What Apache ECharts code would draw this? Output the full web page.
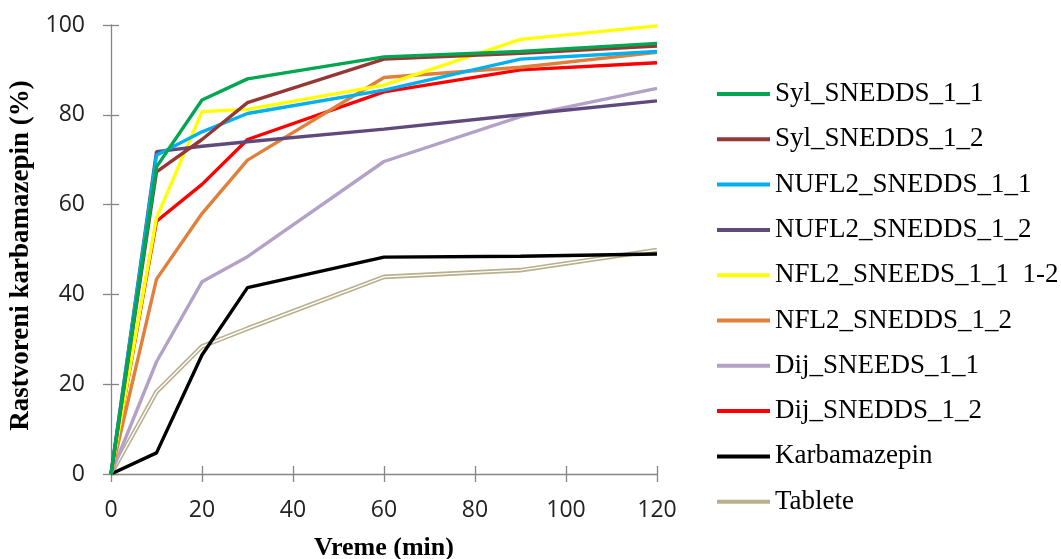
<!DOCTYPE html>
<html><head><meta charset="utf-8">
<script src="https://cdn.jsdelivr.net/npm/echarts@6/dist/echarts.min.js"></script>
<style>html,body{margin:0;padding:0;background:#fff}#c{width:1061px;height:559px}</style>
</head><body><div id="c"></div>
<script>
const times = [0, 10, 20, 30, 60, 90, 120];
const xTicks = [0, 20, 40, 60, 80, 100, 120];
const yTicks = [0, 20, 40, 60, 80, 100];
const names = ['Syl_SNEDDS_1_1','Syl_SNEDDS_1_2','NUFL2_SNEDDS_1_1','NUFL2_SNEDDS_1_2','NFL2_SNEEDS_1_1  1-2','NFL2_SNEDDS_1_2','Dij_SNEEDS_1_1','Dij_SNEDDS_1_2','Karbamazepin','Tablete'];
const sylSnedds11   = [0, 68.4, 83.3, 88.0, 92.9, 94.1, 95.9];
const sylSnedds12   = [0, 67.3, 74.5, 82.7, 92.4, 93.7, 95.3];
const nufl2Snedds11 = [0, 71.0, 76.2, 80.3, 85.5, 92.4, 94.1];
const nufl2Snedds12 = [0, 71.8, 73.0, 74.0, 76.8, 80.0, 83.1];
const nfl2Sneeds11  = [0, 57.0, 80.7, 81.2, 86.6, 96.8, 99.8];
const nfl2Snedds12  = [0, 43.4, 58.0, 69.9, 88.3, 90.6, 93.9];
const dijSneeds11   = [0, 25.0, 42.8, 48.4, 69.6, 79.6, 85.9];
const dijSnedds12   = [0, 56.3, 64.5, 74.5, 85.1, 90.0, 91.6];
const karbamazepin  = [0, 4.7, 26.5, 41.5, 48.3, 48.5, 49.0];
const tablete       = [0, 18.3, 28.4, 32.4, 43.9, 45.4, 49.9];
const colors = ['#00A650','#953735','#00B0F0','#604A7B','#FFFF00','#E0803A','#B3A2C7','#FF0000','#000000','#B8B08C'];
const values = [sylSnedds11,sylSnedds12,nufl2Snedds11,nufl2Snedds12,nfl2Sneeds11,nfl2Snedds12,dijSneeds11,dijSnedds12,karbamazepin,tablete];

const pairs = arr => times.map((t,i)=>[t, arr[i]]);
const series = values.map((v,i)=>({
  name: names[i], type:'line', data: pairs(v), symbol:'none', z: 20 - i,
  xAxisIndex:0, yAxisIndex:0,
  lineStyle:{color:colors[i], width: i===9 ? 4.6 : 3.4},
  itemStyle:{color:colors[i]}
}));
// Tablete inner white stroke (double-line look)
series.push({name:'_tabInner', type:'line', data: pairs(tablete), symbol:'none', z: 11,
  xAxisIndex:0, yAxisIndex:0,
  lineStyle:{color:'#ffffff', width:1.4}, silent:true});

const axisGrey = '#868686';
const serif = "'Liberation Serif', 'Times New Roman', serif";
const chart = echarts.init(document.getElementById('c'), null, {renderer:'canvas'});
chart.setOption({
  animation:false,
  grid:{left:111, right:404, top:25, bottom:85, containLabel:false, outerBoundsMode:'none'},
  xAxis:[{type:'value', min:0, max:120, interval:20,
    name:'Vreme (min)', nameLocation:'middle', nameGap:61,
    nameTextStyle:{fontFamily:serif, fontWeight:'bold', fontSize:26, color:'#000'},
    axisLine:{lineStyle:{color:axisGrey, width:1.3}},
    axisTick:{show:true, length:8, inside:false, lineStyle:{color:axisGrey, width:1.3}},
    axisLabel:{margin:25, fontFamily:'Open Sans', fontSize:23, color:'#222',
      formatter: v => xTicks.includes(v) ? String(v) : ''},
    splitLine:{show:false}},
   {type:'value', min:0, max:120, interval:20, position:'bottom',
    axisLine:{show:false}, axisLabel:{show:false}, splitLine:{show:false},
    axisTick:{show:true, length:8, inside:true, lineStyle:{color:axisGrey, width:1.3}}}],
  yAxis:[{type:'value', min:0, max:100, interval:20,
    name:'Rastvoreni karbamazepin (%)', nameLocation:'middle', nameGap:71,
    nameTextStyle:{fontFamily:serif, fontWeight:'bold', fontSize:27, color:'#000', padding:[0,12,0,0]},
    axisLine:{show:true, lineStyle:{color:axisGrey, width:1.3}},
    axisTick:{show:true, length:8, inside:false, lineStyle:{color:axisGrey, width:1.3}},
    axisLabel:{margin:26, fontFamily:'Open Sans', fontSize:23, color:'#222',
      formatter: v => yTicks.includes(v) ? String(v) : ''},
    splitLine:{show:false}},
   {type:'value', min:0, max:100, interval:20, position:'left',
    axisLine:{show:false}, axisLabel:{show:false}, splitLine:{show:false},
    axisTick:{show:true, length:8, inside:true, lineStyle:{color:axisGrey, width:1.3}}}],
  legend:{orient:'vertical', left:712, top:75.5, data:names,
    itemWidth:53, itemHeight:27, itemGap:18.3,
    icon:'path://M0,0 L53,0 L53,4 L0,4 Z',
    textStyle:{fontFamily:serif, fontSize:27, color:'#000', lineHeight:27}},
  series: series
});
</script></body></html>
